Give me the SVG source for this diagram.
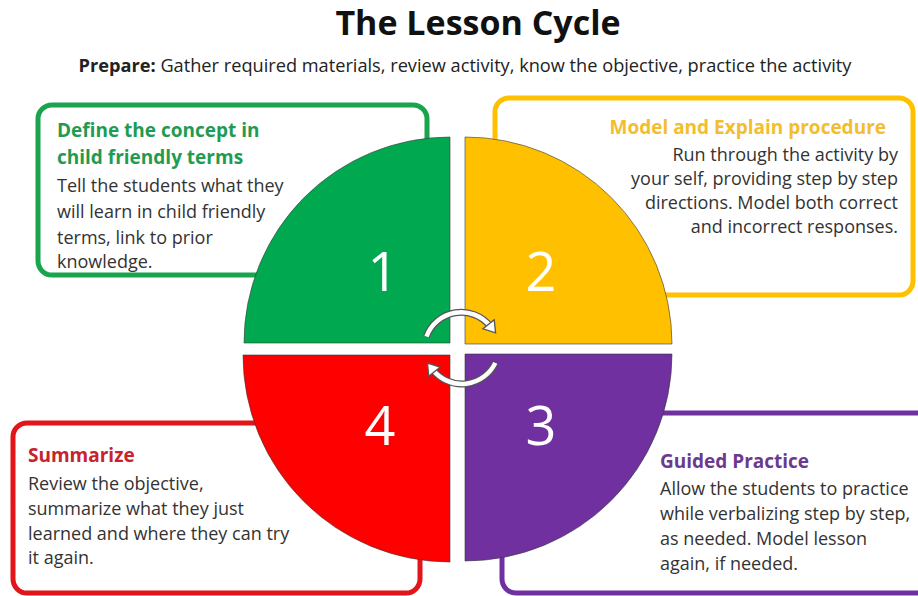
<svg xmlns="http://www.w3.org/2000/svg" width="918" height="596" viewBox="0 0 918 596">
<style>
text{font-family:"Open Sans",Lato,"Liberation Sans",sans-serif;}
.title{font-size:34px;font-weight:bold;fill:#111;}
.sub{font-size:18.2px;fill:#222;}
.head{font-size:19px;font-weight:bold;}
.body{font-size:18px;fill:#333;}
.num{font-size:54px;fill:#fff;text-anchor:middle;}
.box{fill:#fff;stroke-width:5;}
.quad{stroke:#3a3a3a;stroke-width:1;stroke-opacity:.6;}
.arc-o{fill:none;stroke:#555;stroke-width:7;}
.arc-i{fill:none;stroke:#fff;stroke-width:4.5;}
</style>
<defs>
<marker id="ah" markerUnits="userSpaceOnUse" markerWidth="20" markerHeight="20" refX="2" refY="0" viewBox="-2 -9 16 18" orient="auto">
<path d="M0,-6.5 L10,0 L0,6.5 Z" fill="#fff" stroke="#555" stroke-width="1.2"/>
</marker>
</defs>
<rect width="918" height="596" fill="#fff"/>
<text class="title" x="478" y="35" text-anchor="middle">The Lesson Cycle</text>
<text class="sub" x="465" y="72" text-anchor="middle"><tspan font-weight="bold">Prepare:</tspan> Gather required materials, review activity, know the objective, practice the activity</text>

<g id="box1">
<rect class="box" x="38" y="105" width="389" height="170" rx="14" stroke="#1aa44e"/>
<text class="head" fill="#1f9c52" x="57" y="137">Define the concept in</text>
<text class="head" fill="#1f9c52" x="57" y="164">child friendly terms</text>
<text class="body" x="57" y="192">Tell the students what they</text>
<text class="body" x="57" y="218">will learn in child friendly</text>
<text class="body" x="57" y="244">terms, link to prior</text>
<text class="body" x="57" y="268">knowledge.</text>
</g>
<g id="box2">
<rect class="box" x="495" y="98" width="418" height="197" rx="14" stroke="#ffc000"/>
<text class="head" fill="#f3bd2e" x="886" y="134" text-anchor="end">Model and Explain procedure</text>
<text class="body" x="898" y="161" text-anchor="end">Run through the activity by</text>
<text class="body" x="898" y="185" text-anchor="end">your self, providing step by step</text>
<text class="body" x="898" y="209" text-anchor="end">directions. Model both correct</text>
<text class="body" x="898" y="233" text-anchor="end">and incorrect responses.</text>
</g>
<g id="box4">
<rect class="box" x="13" y="423" width="407" height="170" rx="14" stroke="#e3151b"/>
<text class="head" fill="#c8232c" x="28" y="462">Summarize</text>
<text class="body" x="28" y="490">Review the objective,</text>
<text class="body" x="28" y="515">summarize what they just</text>
<text class="body" x="28" y="540">learned and where they can try</text>
<text class="body" x="28" y="564">it again.</text>
</g>
<g id="box3">
<rect class="box" x="502" y="413" width="440" height="180" rx="14" stroke="#7030a0"/>
<text class="head" fill="#6b3a8e" x="660" y="468">Guided Practice</text>
<text class="body" x="660" y="495">Allow the students to practice</text>
<text class="body" x="660" y="520">while verbalizing step by step,</text>
<text class="body" x="660" y="545">as needed. Model lesson</text>
<text class="body" x="660" y="570">again, if needed.</text>
</g>

<g id="q1">
<path class="quad" fill="#00a94f" d="M450,343 H244 A206,206 0 0 1 450,137 Z"/>
<text class="num" x="383" y="291">1</text>
</g>
<g id="q2">
<path class="quad" fill="#ffc000" d="M465,344 V137 A207,207 0 0 1 672,344 Z"/>
<text class="num" x="541" y="291">2</text>
</g>
<g id="q3">
<path class="quad" fill="#7030a0" d="M465,354 H672 A207,207 0 0 1 465,561 Z"/>
<text class="num" x="541" y="445">3</text>
</g>
<g id="q4">
<path class="quad" fill="#ff0000" d="M450,355 V562 A207,207 0 0 1 243,355 Z"/>
<text class="num" x="380" y="445">4</text>
</g>

<g id="connectors">
<path class="arc-o" d="M426.5,336.5 A37,37 0 0 1 490,326"/>
<path class="arc-i" d="M426.5,336.5 A37,37 0 0 1 490,326" marker-end="url(#ah)"/>
<path class="arc-o" d="M495.3,362.9 A37,37 0 0 1 433,370"/>
<path class="arc-i" d="M495.3,362.9 A37,37 0 0 1 433,370" marker-end="url(#ah)"/>
</g>
</svg>
